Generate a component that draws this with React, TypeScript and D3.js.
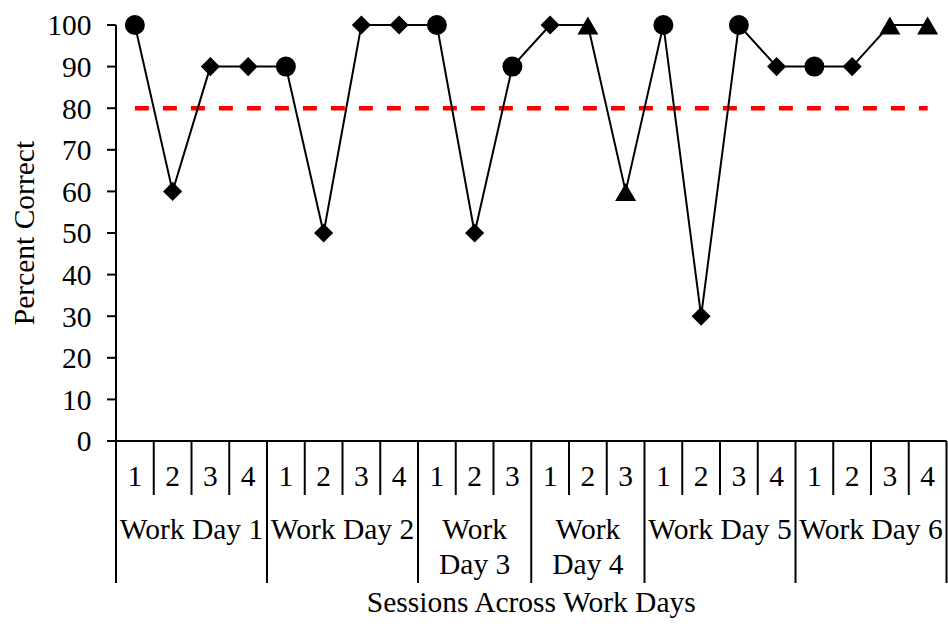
import React from "react";
import * as d3 from "d3";

// Sessions per work day and the labels drawn under each group
const sessionsPerDay = [4, 4, 3, 3, 4, 4];
const dayLabels = [
  ["Work Day 1"],
  ["Work Day 2"],
  ["Work", "Day 3"],
  ["Work", "Day 4"],
  ["Work Day 5"],
  ["Work Day 6"],
];

// Percent correct per session, in order
const percentCorrect = [
  100, 60, 90, 90,
  90, 50, 100, 100,
  100, 50, 90,
  100, 100, 60,
  100, 30, 100, 90,
  90, 90, 100, 100,
];

// Marker shape per session
const markerShapes = [
  "circle", "diamond", "diamond", "diamond",
  "circle", "diamond", "diamond", "diamond",
  "circle", "diamond", "circle",
  "diamond", "triangle", "triangle",
  "circle", "diamond", "circle", "diamond",
  "circle", "diamond", "triangle", "triangle",
];

const yTicks = [0, 10, 20, 30, 40, 50, 60, 70, 80, 90, 100];
const criterion = 80;

const W = 948;
const H = 634;
const left = 116;
const right = 946.5;
const top = 25;
const bottom = 441;
const FONT = "'Liberation Serif', 'Times New Roman', serif";
const FS = 29.5;

export default function App() {
  const nSessions = d3.sum(sessionsPerDay);
  const x = d3.scaleLinear().domain([0, nSessions]).range([left, right]);
  const y = d3.scaleLinear().domain([0, 100]).range([bottom, top]);

  const points = percentCorrect.map((v, i) => ({ i, v, shape: markerShapes[i] }));
  const line = d3
    .line<{ i: number; v: number }>()
    .x((d) => x(d.i + 0.5))
    .y((d) => y(d.v));

  const dayStarts = sessionsPerDay.map((_, k) => d3.sum(sessionsPerDay.slice(0, k)));

  const diamond = d3.symbol().type(d3.symbolSquare).size(182)();
  const tri = "M0,-9.5L10.5,8.5L-10.5,8.5Z";

  const sessionRowBottom = 495;
  const tableBottom = 583;

  return (
    <svg
      width={W}
      height={H}
      style={{ position: "absolute", left: 0, top: 0, background: "#fff" }}
      fontFamily={FONT}
    >
      {/* y axis */}
      <line x1={left} x2={left} y1={top} y2={bottom} stroke="#000" strokeWidth={2} />
      {yTicks.map((t) => (
        <g key={t}>
          <line x1={left - 9} x2={left} y1={y(t)} y2={y(t)} stroke="#000" strokeWidth={2} />
          <text
            x={91.5}
            y={y(t)}
            dy="0.35em"
            textAnchor="end"
            fontSize={FS}
            fill="#000"
          >
            {t}
          </text>
        </g>
      ))}
      <text
        transform={`translate(34, ${(top + bottom) / 2}) rotate(-90)`}
        textAnchor="middle"
        fontSize={FS}
        fill="#000"
      >
        Percent Correct
      </text>

      {/* x axis and session/day table */}
      <line x1={left - 9} x2={right} y1={bottom} y2={bottom} stroke="#000" strokeWidth={2} />
      {d3.range(nSessions + 1).map((k) => {
        const isDay = k === 0 || k === nSessions || dayStarts.includes(k);
        return (
          <line
            key={`sep${k}`}
            x1={x(k)}
            x2={x(k)}
            y1={bottom}
            y2={isDay ? tableBottom : sessionRowBottom}
            stroke="#000"
            strokeWidth={2}
          />
        );
      })}
      {sessionsPerDay.map((n, d) =>
        d3.range(n).map((s) => (
          <text
            key={`s${d}-${s}`}
            x={x(dayStarts[d] + s + 0.5)}
            y={486}
            textAnchor="middle"
            fontSize={FS}
            fill="#000"
          >
            {s + 1}
          </text>
        ))
      )}
      {dayLabels.map((lines, d) => {
        const cx = x(dayStarts[d] + sessionsPerDay[d] / 2);
        return lines.map((ln, j) => (
          <text
            key={`d${d}-${j}`}
            x={cx}
            y={539 + j * 35}
            textAnchor="middle"
            fontSize={FS}
            fill="#000"
          >
            {ln}
          </text>
        ));
      })}
      <text
        x={(left + right) / 2}
        y={612}
        textAnchor="middle"
        fontSize={FS}
        fill="#000"
      >
        Sessions Across Work Days
      </text>

      {/* criterion line */}
      <line
        x1={x(0.5)}
        x2={x(nSessions - 0.5)}
        y1={y(criterion)}
        y2={y(criterion)}
        stroke="#ff0000"
        strokeWidth={4.5}
        strokeDasharray="14 14"
      />

      {/* data path */}
      <path d={line(points) || ""} fill="none" stroke="#000" strokeWidth={2} />
      {points.map((p) => {
        const cx = x(p.i + 0.5);
        const cy = y(p.v);
        if (p.shape === "circle") return <circle key={p.i} cx={cx} cy={cy} r={10} fill="#000" />;
        if (p.shape === "diamond")
          return (
            <path
              key={p.i}
              d={diamond || ""}
              transform={`translate(${cx},${cy}) rotate(45)`}
              fill="#000"
            />
          );
        return <path key={p.i} d={tri} transform={`translate(${cx},${cy + 1})`} fill="#000" />;
      })}
    </svg>
  );
}
